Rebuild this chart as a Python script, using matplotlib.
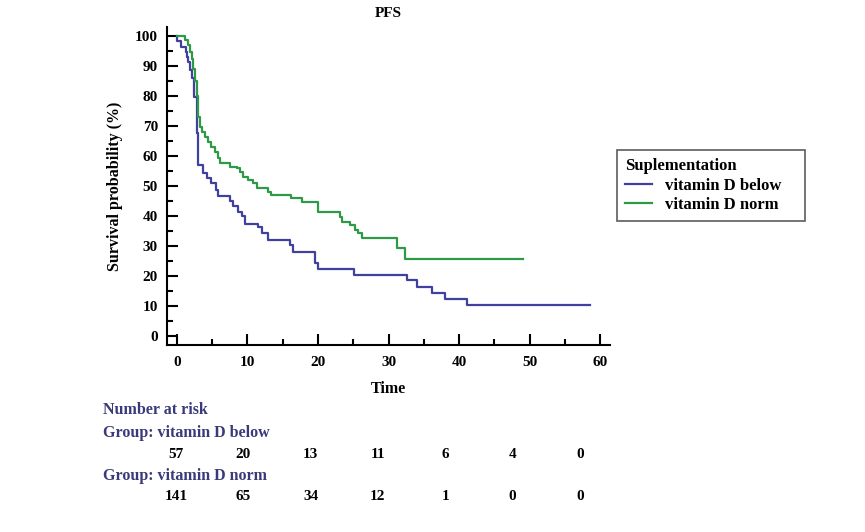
import matplotlib
matplotlib.use("Agg")
import matplotlib.pyplot as plt
from matplotlib.ticker import MultipleLocator

# Kaplan-Meier steps (time, survival % after the step)
below_t = [0, 0.05, 0.57, 1.23, 1.46, 1.6, 1.84, 2.08, 2.46, 2.79, 3.0, 3.7, 4.2, 4.9,
           5.6, 5.9, 7.5, 8.0, 8.7, 9.2, 9.6, 11.5, 12.0, 12.95, 16.0, 16.5, 19.6,
           20.0, 25.1, 32.6, 34.0, 36.1, 38.0, 41.1, 58.5]
below_s = [100, 98.2, 96.5, 94.8, 93.1, 91.4, 88.7, 85.9, 79.8, 67.6, 57.0, 54.4, 52.7,
           51.0, 48.7, 46.8, 45.0, 43.3, 41.5, 40.0, 37.5, 36.3, 34.2, 32.0, 30.2, 28.0,
           24.5, 22.5, 20.3, 18.7, 16.4, 14.2, 12.3, 10.3, 10.3]

norm_t = [0, 1.13, 1.6, 1.84, 2.08, 2.3, 2.55, 2.79, 3.0, 3.26, 3.5, 3.97, 4.4, 4.9,
          5.4, 5.86, 6.1, 7.5, 8.5, 8.9, 9.4, 10.1, 10.8, 11.3, 12.95, 13.4, 16.2,
          17.7, 20.0, 23.1, 23.4, 24.5, 25.2, 25.7, 26.2, 31.2, 32.3, 49.0]
norm_s = [100, 98.6, 97.0, 94.7, 92.5, 89.0, 85.0, 80.0, 73.1, 69.8, 68.1, 66.4, 64.8,
          63.1, 61.4, 59.2, 57.6, 56.4, 55.9, 54.8, 53.1, 52.0, 50.9, 49.2, 48.1, 47.0,
          45.9, 44.8, 41.4, 39.8, 38.1, 37.0, 35.3, 34.2, 32.6, 29.2, 25.7, 25.7]

# number at risk table
risk_times = [0, 10, 20, 30, 40, 50, 60]
risk_below = [57, 20, 13, 11, 6, 4, 0]
risk_norm = [141, 65, 34, 12, 1, 0, 0]

blue = "#40409e"
green = "#2e9a48"
navy = "#3a3a7a"

plt.rcParams['font.family'] = ['Liberation Serif', 'DejaVu Serif']
plt.rcParams['font.weight'] = 'bold'

W, H = 865, 532
fig = plt.figure(figsize=(W / 100, H / 100), dpi=100)
ax = fig.add_axes([167 / W, 1 - 345 / H, (610 - 167) / W, (345 - 27) / H])

ax.step(below_t, below_s, where='post', color=blue, lw=1.6, label='vitamin D below')
ax.step(norm_t, norm_s, where='post', color=green, lw=1.6, label='vitamin D norm')

ax.set_xlim(-1.4, 61.4)
ax.set_ylim(-3, 103)
ax.xaxis.set_major_locator(MultipleLocator(10))
ax.xaxis.set_minor_locator(MultipleLocator(5))
ax.yaxis.set_major_locator(MultipleLocator(10))
ax.yaxis.set_minor_locator(MultipleLocator(5))
ax.tick_params(which='major', direction='in', length=8, width=1.5, labelsize=11)
ax.tick_params(axis='x', which='major', pad=8)
ax.tick_params(axis='y', which='major', pad=6.5)
ax.tick_params(which='minor', direction='in', length=4, width=1.5)
for lab in ax.get_xticklabels() + ax.get_yticklabels():
    lab.set_fontweight('bold')
for side in ['top', 'right']:
    ax.spines[side].set_visible(False)
for side in ['left', 'bottom']:
    ax.spines[side].set_linewidth(1.5)

ax.set_title('PFS', fontsize=11, fontweight='bold', pad=7.5)
ax.set_xlabel('Time', fontsize=11.5, fontweight='bold')
ax.xaxis.set_label_coords(0.5, -0.113)
ax.set_ylabel('Survival probability (%)', fontsize=11.5, fontweight='bold')
ax.yaxis.set_label_coords(-0.099, 0.5)

leg = fig.legend(loc='upper left',
                 bbox_to_anchor=(617 / W, 1 - 222 / H, 188 / W, 72 / H),
                 mode='expand', title='Suplementation', fontsize=12,
                 title_fontsize=12, frameon=True, fancybox=False,
                 edgecolor='#333333', handlelength=1.6, borderaxespad=0,
                 alignment='left', borderpad=0.5, labelspacing=0.2)
leg.get_frame().set_linewidth(1.2)
leg.get_title().set_fontweight('bold')

# at-risk table below the chart
def fx(px):
    return px / W

def fy(py):
    return 1 - py / H

fig.text(fx(103), fy(410), 'Number at risk', color=navy, fontsize=11.5,
         fontweight='bold', va='center')
fig.text(fx(103), fy(433), 'Group: vitamin D below', color=navy, fontsize=11.5,
         fontweight='bold', va='center')
fig.text(fx(103), fy(476), 'Group: vitamin D norm', color=navy, fontsize=11.5,
         fontweight='bold', va='center')
for i, t in enumerate(risk_times):
    xp = 176 + t * 6.73
    fig.text(fx(xp), fy(455), str(risk_below[i]), ha='center', va='center',
             fontsize=11, fontweight='bold')
    fig.text(fx(xp), fy(496), str(risk_norm[i]), ha='center', va='center',
             fontsize=11, fontweight='bold')

fig.savefig('out.png', dpi=100)
